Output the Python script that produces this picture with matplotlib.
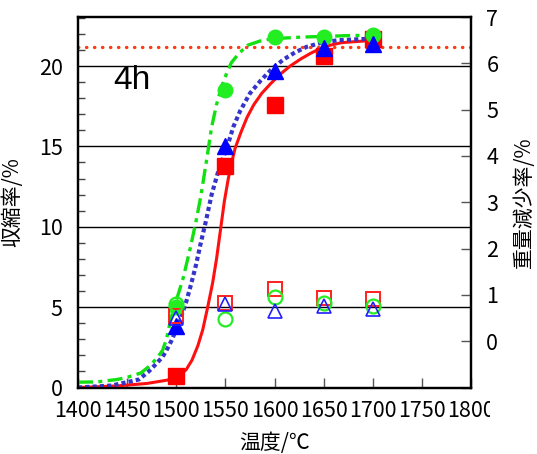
import matplotlib
matplotlib.use("Agg")
import matplotlib.pyplot as plt
from matplotlib import font_manager
from matplotlib.ticker import MultipleLocator, FixedLocator
from matplotlib.transforms import Bbox, TransformedBbox

plt.rcParams['font.family'] = ['Noto Sans CJK JP', 'DejaVu Sans']
installed = {f.name for f in font_manager.fontManager.ttflist}
tick_font = 'Liberation Sans Narrow' if 'Liberation Sans Narrow' in installed else 'Noto Sans CJK JP'

# sintering temperatures (degC) for the measured points
temps = [1500, 1550, 1600, 1650, 1700]

# shrinkage (%) - filled markers, left axis
shrink_red = [0.7, 13.8, 17.6, 20.6, 21.7]
shrink_blue = [3.8, 15.0, 19.7, 21.1, 21.4]
shrink_green = [5.0, 18.5, 21.8, 21.8, 21.9]

# weight loss (%) - open markers, right axis
loss_red = [0.54, 0.83, 1.12, 0.94, 0.92]
loss_blue = [0.51, 0.81, 0.65, 0.76, 0.70]
loss_green = [0.80, 0.47, 0.96, 0.82, 0.77]

# fitted shrinkage curves
fit_red_t = [1400, 1440, 1470, 1490, 1500, 1510, 1516, 1522, 1527, 1532, 1537, 1541, 1545,
             1549, 1553, 1556, 1560, 1566, 1572, 1579, 1587, 1596, 1606, 1616, 1627, 1637,
             1647, 1657, 1668, 1678, 1690, 1700]
fit_red_v = [0.0, 0.1, 0.25, 0.45, 0.6, 1.1, 1.7, 2.6, 3.6, 5.0, 6.5, 8.0, 9.8,
             11.6, 13.0, 13.9, 14.9, 15.9, 16.8, 17.6, 18.3, 18.9, 19.5, 20.0, 20.45, 20.8,
             21.1, 21.3, 21.45, 21.5, 21.55, 21.6]

fit_blue_t = [1400, 1434, 1455, 1462, 1472, 1480, 1486, 1490, 1495, 1500, 1505, 1510, 1515,
              1520, 1525, 1530, 1536, 1543, 1552, 1558, 1565, 1575, 1586, 1597, 1609, 1621,
              1633, 1648, 1664, 1680, 1698]
fit_blue_v = [0.0, 0.12, 0.4, 0.5, 1.0, 1.5, 1.9, 2.3, 2.9, 3.6, 4.4, 5.3, 6.4,
              7.6, 9.0, 10.3, 12.0, 13.5, 15.0, 16.2, 17.2, 18.3, 19.1, 19.8, 20.4, 20.85,
              21.2, 21.45, 21.6, 21.65, 21.7]

fit_green_t = [1400, 1420, 1440, 1451, 1464, 1472, 1480, 1486, 1490, 1495, 1500, 1507, 1514,
               1520, 1525, 1531, 1536, 1541, 1546, 1551, 1556, 1564, 1573, 1585, 1598, 1628,
               1679, 1700]
fit_green_v = [0.33, 0.35, 0.5, 0.65, 0.9, 1.3, 1.8, 2.3, 3.0, 4.4, 5.4, 6.8, 8.6,
               10.3, 11.9, 14.2, 16.2, 17.6, 18.7, 19.5, 20.2, 20.8, 21.3, 21.55, 21.7, 21.8,
               21.9, 21.9]

ref_level = 21.2  # dotted reference line (left axis)

fig = plt.figure(figsize=(5.37, 4.54), dpi=100)
ax = fig.add_axes([78 / 537, 1 - 387.5 / 454, (471 - 78) / 537, (387.5 - 17) / 454])
ax2 = ax.twinx()

ax.set_xlim(1400, 1800)
ax.set_ylim(0, 23.05)
ax2.set_ylim(-1, 7)

# fitted curves
ax.plot(fit_red_t, fit_red_v, color='#FF1010', lw=2.2, zorder=3)
ax.plot(fit_blue_t, fit_blue_v, color='#3535CC', lw=3.0, ls=(0, (1, 0.75)), zorder=3)
ax.plot(fit_green_t, fit_green_v, color='#11E011', lw=2.4,
        ls=(0, (4.5, 1.6, 1.2, 1.6)), zorder=3)
ax.axhline(ref_level, color='#FF3A10', lw=2.4, ls=(0, (0.1, 2.3)),
           dash_capstyle='round', zorder=4)

# shrinkage points
ax.plot(temps, shrink_red, 's', color='#FF0000', ms=12, mec='#FF0000', zorder=5)
ax.plot(temps, shrink_green, 'o', color='#22EE22', ms=10.5, mec='#22EE22', zorder=5)
ax.plot(temps, shrink_blue, '^', color='#0000FF', ms=11, mec='#0000FF', zorder=5)

# weight loss points
ax2.plot(temps, loss_red, 's', mfc='none', mec='#FF2020', ms=10, mew=1.4)
ax2.plot(temps, loss_green, 'o', mfc='none', mec='#22EE22', ms=10, mew=1.6)
ax2.plot(temps, loss_blue, '^', mfc='none', mec='#2020FF', ms=10, mew=1.2)

ax.text(1455, 19.1, '4h', fontsize=24, family='Liberation Sans', ha='center', va='center')

# axes cosmetics
ax.set_xticks(range(1400, 1801, 50))
ax.yaxis.set_major_locator(FixedLocator([0, 5, 10, 15, 20]))
ax.yaxis.set_minor_locator(MultipleLocator(1))
ax.grid(axis='y', which='major', color='black', lw=1)
ax.tick_params(axis='x', direction='in', length=7, width=1, color='#555555',
               labelsize=15.5, pad=9)
ax.tick_params(axis='y', which='major', direction='in', length=0, labelsize=15.5, pad=11)
ax.tick_params(axis='y', which='minor', direction='in', length=5, width=1, color='#444444')
ax2.yaxis.set_major_locator(FixedLocator(range(-1, 8)))
ax2.set_yticklabels([''] + [str(v) for v in range(0, 8)])
ax2.tick_params(axis='y', direction='in', length=7, width=1, color='#555555',
                labelsize=15.5, pad=11)
for lab in ax.get_xticklabels() + ax.get_yticklabels() + ax2.get_yticklabels():
    lab.set_family(tick_font)
for a in (ax, ax2):
    for s in a.spines.values():
        s.set_linewidth(1.6)
        s.set_color('black')

ax.set_xlabel('温度/℃', fontsize=15, labelpad=7)
ax.set_ylabel('収縮率/%', fontsize=15)
ax.yaxis.set_label_coords(-55 / 393, 0.5)
ax2.set_ylabel('重量減少率/%', fontsize=15)
ax2.yaxis.set_label_coords(1 + 42 / 393, 0.5)

# the last x label is cut off at the image border in the original
lbl = ax.get_xticklabels()[-1]
lbl.set_clip_box(TransformedBbox(Bbox([[0, 0], [490 / 537, 1]]), fig.transFigure))
lbl.set_clip_on(True)

fig.savefig('out.png', dpi=100)
